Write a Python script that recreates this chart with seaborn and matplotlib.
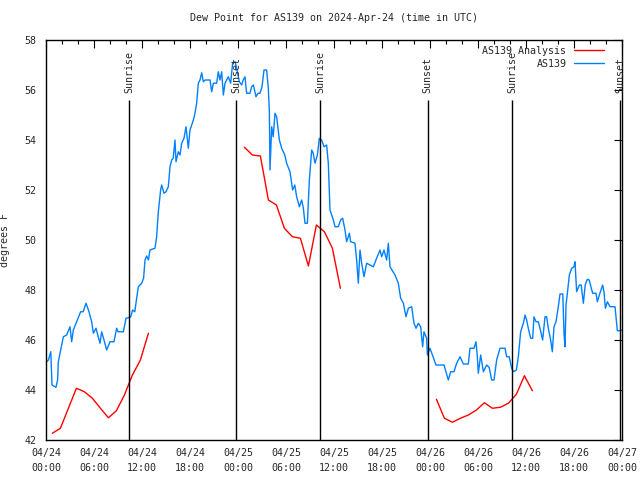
"""
Dew Point for AS139 -- gnuplot-style line chart redrawn with seaborn
"""
import numpy as np
import pandas as pd
import matplotlib
matplotlib.use("Agg")
import matplotlib.pyplot as plt
import matplotlib.dates as mdates
from matplotlib.lines import Line2D
import seaborn as sns

# ---- data (hours after 2024-04-24 00:00 UTC, degrees F) ----
analysis_hours = [0.8, 1.8, 2.8, 3.8, 4.8, 5.8, 6.8, 7.8, 8.8, 9.8, 10.8, 11.8, 12.8,
                  24.8, 25.8, 26.8, 27.8, 28.8, 29.8, 30.8, 31.8, 32.8, 33.8, 34.8, 35.8, 36.8,
                  48.8, 49.8, 50.8, 51.8, 52.8, 53.8, 54.8, 55.8, 56.8, 57.8, 58.8, 59.8, 60.8]
analysis_values = [42.27, 42.47, 43.27, 44.07, 43.93, 43.67, 43.27, 42.89, 43.17, 43.8, 44.6, 45.2, 46.27,
                   53.71, 53.4, 53.36, 51.6, 51.4, 50.47, 50.13, 50.07, 48.96, 50.6, 50.33, 49.67, 48.07,
                   43.63, 42.87, 42.71, 42.87, 43.0, 43.2, 43.49, 43.27, 43.31, 43.47, 43.83, 44.57, 43.97]
analysis_segment = [0] * 13 + [1] * 13 + [2] * 13

obs_hours = [
    0.08, 0.3, 0.6, 0.75, 1.0, 1.25, 1.45, 1.54, 1.83, 2.17, 2.58, 3.0, 3.21, 3.42, 3.83,
    4.33, 4.65, 5.0, 5.375, 5.71, 5.92, 6.25, 6.54, 6.75, 6.96, 7.25, 7.58, 8.0, 8.5, 8.83,
    9.0, 9.67, 10.0, 10.4, 10.58, 10.83, 11.1, 11.33, 11.54, 11.96, 12.2, 12.375, 12.58, 12.8,
    13.0, 13.625, 13.83, 14.04, 14.33, 14.46, 14.75, 15.0, 15.29, 15.5, 15.71, 15.9, 16.125,
    16.25, 16.54, 16.75, 16.96, 17.25, 17.5, 17.79, 18.0, 18.42, 18.625, 18.83, 19.04, 19.25,
    19.46, 19.67, 19.9, 20.5, 20.71, 20.92, 21.33, 21.54, 21.75, 21.96, 22.17, 22.375, 22.79,
    23.08, 23.33, 23.625, 23.8, 24.17, 24.46, 24.65, 24.875, 25.08, 25.5, 25.7, 25.92, 26.25,
    26.5, 26.75, 27.0, 27.25, 27.58, 27.79, 27.92, 28.0, 28.21, 28.4, 28.625, 28.83, 29.17,
    29.46, 29.85, 30.08, 30.5, 30.83, 31.1, 31.33, 31.67, 31.96, 32.17, 32.375, 32.67, 32.92,
    33.21, 33.4, 33.625, 33.92, 34.17, 34.46, 34.75, 35.08, 35.29, 35.5, 35.92, 36.125, 36.54,
    36.83, 37.08, 37.375, 37.58, 37.92, 38.08, 38.625, 38.83, 39.04, 39.25, 39.46, 39.75,
    40.08, 40.92, 41.33, 41.75, 41.96, 42.25, 42.58, 42.79, 43.0, 43.625, 44.04, 44.33, 44.67,
    45.0, 45.29, 45.71, 46.0, 46.25, 46.54, 46.83, 47.08, 47.25, 47.58, 47.67, 48.0, 48.75,
    49.75, 50.29, 50.58, 51.0, 51.33, 51.75, 52.17, 52.79, 53.0, 53.5, 53.75, 53.9, 54.04,
    54.33, 54.67, 55.08, 55.4, 55.71, 56.0, 56.33, 56.75, 57.375, 57.58, 57.9, 58.21, 58.42,
    58.8, 59.04, 59.33, 59.67, 59.875, 60.08, 60.29, 60.58, 60.83, 61.0, 61.25, 61.54, 61.8,
    62.08, 62.375, 62.58, 62.79, 63.08, 63.29, 63.5, 63.75, 64.04, 64.25, 64.6, 64.75, 64.875,
    65.0, 65.17, 65.42, 65.71, 66.0, 66.125, 66.33, 66.67, 66.9, 67.17, 67.4, 67.67, 67.9,
    68.33, 68.75, 68.92, 69.17, 69.58, 69.75, 69.92, 70.17, 70.5, 71.125, 71.33, 71.42, 71.67,
    71.95]
obs_values = [
    45.13, 45.2, 45.53, 44.2, 44.15, 44.11, 44.4, 45.13, 45.6, 46.13, 46.2, 46.53, 45.93, 46.4, 46.73,
    47.13, 47.13, 47.47, 47.13, 46.73, 46.27, 46.47, 46.13, 45.87, 46.33, 46.0, 45.6, 45.93, 45.93, 46.47,
    46.33, 46.33, 46.87, 46.9, 46.93, 47.2, 47.13, 47.67, 48.13, 48.27, 48.47, 49.2, 49.36, 49.2,
    49.6, 49.67, 50.13, 51.13, 52.0, 52.2, 51.87, 51.93, 52.13, 52.93, 53.2, 53.27, 54.0,
    53.13, 53.53, 53.4, 53.87, 54.07, 54.53, 53.67, 54.4, 54.8, 55.07, 55.47, 56.27, 56.4,
    56.69, 56.33, 56.4, 56.4, 55.93, 56.27, 56.27, 56.73, 56.4, 56.73, 55.8, 56.27, 56.53,
    56.27, 57.07, 57.13, 56.93, 56.33, 56.2, 56.4, 56.53, 55.87, 55.87, 56.13, 56.2, 55.73,
    55.87, 55.87, 56.13, 56.8, 56.8, 56.07, 55.13, 52.8, 54.53, 54.13, 55.07, 54.93, 54.0,
    53.67, 53.4, 53.07, 52.73, 52.0, 52.2, 51.73, 51.33, 51.6, 51.27, 50.67, 50.67, 52.4,
    53.6, 53.47, 53.07, 53.4, 54.07, 54.0, 53.73, 53.8, 53.07, 51.2, 50.8, 50.53, 50.53,
    50.8, 50.87, 50.4, 49.93, 50.27, 49.93, 49.87, 49.2, 48.27, 49.6, 49.07, 48.53,
    49.07, 48.93, 49.27, 49.6, 49.33, 49.6, 49.2, 49.87, 48.93, 48.6, 48.27, 47.67, 47.47,
    46.93, 47.27, 47.33, 46.67, 46.47, 46.67, 46.53, 45.73, 46.33, 46.07, 45.4, 45.67, 45.0,
    45.0, 44.4, 44.73, 44.73, 45.07, 45.33, 45.04, 45.04, 45.67, 45.67, 45.93, 45.4, 44.67,
    45.4, 44.73, 45.0, 44.9, 44.4, 44.4, 45.2, 45.67, 45.67, 45.33, 45.33, 44.87, 44.73,
    44.8, 45.33, 46.33, 46.67, 47.0, 46.8, 46.47, 46.07, 46.07, 46.93, 46.73, 46.73, 46.4,
    46.0, 46.93, 46.93, 46.47, 46.0, 45.53, 46.53, 46.73, 47.33, 47.84, 47.84, 46.27, 45.73,
    47.4, 47.87, 48.6, 48.87, 48.93, 49.13, 47.93, 48.2, 48.2, 47.47, 48.2, 48.43, 48.4,
    47.87, 47.87, 47.53, 47.8, 48.2, 47.93, 47.27, 47.53, 47.33, 47.33, 46.67, 46.37, 46.37,
    46.4]

sun_labels = ["Sunrise", "Sunset", "Sunrise", "Sunset", "Sunrise", "Sunset"]
sun_hours = [10.37, 23.77, 34.3, 47.7, 58.3, 71.75]

START = pd.Timestamp("2024-04-24 00:00")
RED, BLUE = "#ff0000", "#0080ff"


def to_time(hours):
    return START + pd.to_timedelta(np.asarray(hours), unit="h")


ana_df = pd.DataFrame({"time": to_time(analysis_hours), "dewpoint": analysis_values,
                       "segment": analysis_segment})
obs_df = pd.DataFrame({"time": to_time(obs_hours), "dewpoint": obs_values})

sns.set_style("white")
plt.rcParams["font.family"] = ["DejaVu Sans Mono", "DejaVu Sans"]
FS = 7.2

fig = plt.figure(figsize=(6.4, 4.8), dpi=100)
ax = fig.add_axes([46 / 640, 40 / 480, 576 / 640, 400 / 480])

sns.lineplot(data=ana_df, x="time", y="dewpoint", units="segment", estimator=None,
             color=RED, linewidth=1, legend=False, ax=ax)
sns.lineplot(data=obs_df, x="time", y="dewpoint", color=BLUE, linewidth=1,
             legend=False, ax=ax)

# 日出日落竖线
for lab, h in zip(sun_labels, sun_hours):
    t = to_time([h])[0]
    ax.vlines(t, 42, 55.62, color="black", linewidth=1)
    ax.text(t, 55.88, lab, rotation=90, ha="center", va="bottom", fontsize=FS)

ax.set_xlim(START, START + pd.Timedelta(hours=72))
ax.set_ylim(42, 58)
ax.set_yticks(np.arange(42, 59, 2))
ax.xaxis.set_major_locator(mdates.HourLocator(byhour=[0, 6, 12, 18]))
ax.xaxis.set_minor_locator(mdates.HourLocator(byhour=range(0, 24, 2)))
ax.xaxis.set_major_formatter(mdates.DateFormatter("%m/%d\n%H:%M"))
ax.tick_params(which="both", direction="in", top=True, right=True, labelsize=FS,
               width=0.8, color="black")
ax.tick_params(axis="x", pad=6)
ax.tick_params(axis="y", pad=7)
ax.tick_params(which="major", length=6)
ax.tick_params(which="minor", length=3)
for lbl in ax.get_xticklabels():
    lbl.set_linespacing(1.6)
for s in ax.spines.values():
    s.set_color("black")
    s.set_linewidth(1)

ax.set_xlabel("")
ax.set_ylabel("degrees F", fontsize=FS)
ax.yaxis.set_label_coords(-0.062, 0.5)
ax.set_title("Dew Point for AS139 on 2024-Apr-24 (time in UTC)", fontsize=FS, pad=14)

handles = [Line2D([], [], color=RED, linewidth=1), Line2D([], [], color=BLUE, linewidth=1)]
ax.legend(handles, ["AS139 Analysis", "AS139"], loc="upper right",
          bbox_to_anchor=(0.985, 1.008), frameon=False, markerfirst=False,
          fontsize=FS, handlelength=3.0, handletextpad=0.8, labelspacing=0.3)

fig.savefig("out.png", dpi=100, facecolor="white")
plt.close(fig)
